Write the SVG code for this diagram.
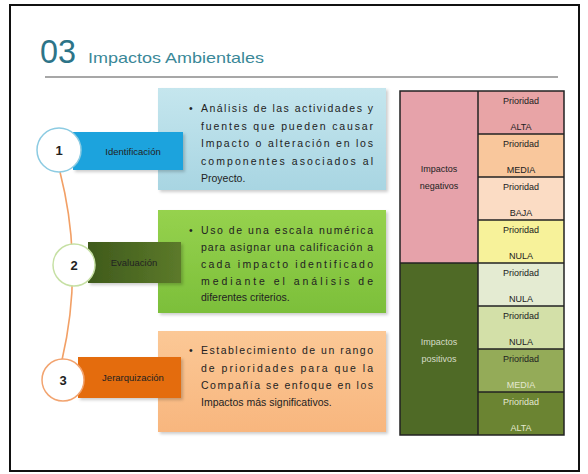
<svg xmlns="http://www.w3.org/2000/svg" width="588" height="474" viewBox="0 0 588 474">
<defs>
<style>
.t{font-family:"Liberation Sans",Arial,sans-serif;fill:#222}
.bx{font-size:10.5px}
.cell{font-size:9px;text-anchor:middle}
.num{font-size:13px;font-weight:bold;text-anchor:middle}
.lab{font-size:9.5px;text-anchor:middle}
.grid{stroke:#222;stroke-width:1.5}
</style>
<linearGradient id="gBlue" x1="0" y1="0" x2="0" y2="1"><stop offset="0" stop-color="#c5e6ee"/><stop offset="1" stop-color="#a8d5e2"/></linearGradient>
<linearGradient id="gGreen" x1="0" y1="0" x2="0" y2="1"><stop offset="0" stop-color="#96d24e"/><stop offset="1" stop-color="#7cbf3a"/></linearGradient>
<linearGradient id="gPeach" x1="0" y1="0" x2="0" y2="1"><stop offset="0" stop-color="#fbc896"/><stop offset="1" stop-color="#f8b67e"/></linearGradient>
<linearGradient id="gDark" x1="0" y1="0" x2="1" y2="0"><stop offset="0" stop-color="#3f5a1c"/><stop offset="1" stop-color="#5c7a2a"/></linearGradient>
<filter id="sh" x="-5%" y="-5%" width="115%" height="120%"><feDropShadow dx="2" dy="2" stdDeviation="1.5" flood-color="#000" flood-opacity="0.2"/></filter>
</defs>
<rect x="0" y="0" width="588" height="474" fill="#fff"/>
<rect x="10" y="5" width="569" height="466" fill="#fff" stroke="#111" stroke-width="2"/>
<g id="title">
<text class="t" x="40" y="63" font-size="33" fill="#2d7488" style="fill:#2d7488" textLength="36" lengthAdjust="spacingAndGlyphs">03</text>
<text class="t" x="88" y="63" font-size="15" style="fill:#3a8898" textLength="176" lengthAdjust="spacingAndGlyphs">Impactos Ambientales</text>
<line x1="45" y1="77" x2="558" y2="77" stroke="#8a8a8a" stroke-width="1.5"/>
</g>
<g id="connectors">
<path d="M60 172 Q84 266 62 360" fill="none" stroke="#f2a066" stroke-width="1.6"/>
</g>
<g id="box1">
<rect x="158" y="88" width="228" height="102" fill="url(#gBlue)" filter="url(#sh)"/>
<text class="t bx" x="189" y="112">•</text>
<text class="t bx" x="201" y="112" textLength="172" lengthAdjust="spacing">Análisis de las actividades y</text>
<text class="t bx" x="201" y="129.5" textLength="172" lengthAdjust="spacing">fuentes que pueden causar</text>
<text class="t bx" x="201" y="147" textLength="172" lengthAdjust="spacing">Impacto o alteración en los</text>
<text class="t bx" x="201" y="164.5" textLength="172" lengthAdjust="spacing">componentes asociados al</text>
<text class="t bx" x="201" y="182">Proyecto.</text>
</g>
<g id="box2">
<rect x="158" y="210" width="228" height="103" fill="url(#gGreen)" filter="url(#sh)"/>
<text class="t bx" x="189" y="234">•</text>
<text class="t bx" x="201" y="234" textLength="172" lengthAdjust="spacing">Uso de una escala numérica</text>
<text class="t bx" x="201" y="251" textLength="172" lengthAdjust="spacing">para asignar una calificación a</text>
<text class="t bx" x="201" y="268" textLength="172" lengthAdjust="spacing">cada impacto identificado</text>
<text class="t bx" x="201" y="284.5" textLength="172" lengthAdjust="spacing">mediante el análisis de</text>
<text class="t bx" x="201" y="301">diferentes criterios.</text>
</g>
<g id="box3">
<rect x="158" y="331" width="228" height="101" fill="url(#gPeach)" filter="url(#sh)"/>
<text class="t bx" x="189" y="354">•</text>
<text class="t bx" x="201" y="354" textLength="172" lengthAdjust="spacing">Establecimiento de un rango</text>
<text class="t bx" x="201" y="371.5" textLength="172" lengthAdjust="spacing">de prioridades para que la</text>
<text class="t bx" x="201" y="389" textLength="172" lengthAdjust="spacing">Compañía se enfoque en los</text>
<text class="t bx" x="201" y="406">Impactos más significativos.</text>
</g>
<g id="step1">
<rect x="73" y="132" width="110" height="38" fill="#1ea3dd" filter="url(#sh)"/>
<text class="t lab" x="133" y="154.5">Identificación</text>
<circle cx="59" cy="150" r="22" fill="#fff" stroke="#8ccbe2" stroke-width="1.5"/>
<text class="t num" x="59" y="155">1</text>
</g>
<g id="step2">
<rect x="88" y="242" width="93" height="41" fill="url(#gDark)" filter="url(#sh)"/>
<text class="t lab" x="134" y="266">Evaluación</text>
<circle cx="74" cy="265" r="21" fill="#fff" stroke="#c6e0a4" stroke-width="1.5"/>
<text class="t num" x="74" y="270">2</text>
</g>
<g id="step3">
<rect x="78" y="357" width="103" height="41" fill="#e46c0a" filter="url(#sh)"/>
<text class="t lab" x="133" y="381">Jerarquización</text>
<circle cx="63" cy="380" r="21" fill="#fff" stroke="#f2a470" stroke-width="1.5"/>
<text class="t num" x="63" y="385">3</text>
</g>
<g id="table">
<rect x="400" y="91" width="78" height="172" fill="#e6a2aa"/>
<rect x="400" y="263" width="78" height="172" fill="#4f6a26"/>
<rect x="478" y="91" width="86" height="43" fill="#e8a4a6"/>
<rect x="478" y="134" width="86" height="43" fill="#f9c79c"/>
<rect x="478" y="177" width="86" height="43" fill="#fbdcc4"/>
<rect x="478" y="220" width="86" height="43" fill="#f7f29a"/>
<rect x="478" y="263" width="86" height="43" fill="#e4ebd2"/>
<rect x="478" y="306" width="86" height="43" fill="#d3e0a8"/>
<rect x="478" y="349" width="86" height="43" fill="#94ab58"/>
<rect x="478" y="392" width="86" height="43" fill="#6b8432"/>
<g class="grid" fill="none">
<rect x="400" y="91" width="164" height="344"/>
<line x1="478" y1="91" x2="478" y2="435"/>
<line x1="400" y1="263" x2="564" y2="263"/>
<line x1="478" y1="134" x2="564" y2="134"/>
<line x1="478" y1="177" x2="564" y2="177"/>
<line x1="478" y1="220" x2="564" y2="220"/>
<line x1="478" y1="306" x2="564" y2="306"/>
<line x1="478" y1="349" x2="564" y2="349"/>
<line x1="478" y1="392" x2="564" y2="392"/>
</g>
<text class="t cell" x="439" y="172">Impactos</text>
<text class="t cell" x="439" y="189">negativos</text>
<text class="t cell" x="439" y="345" style="fill:#d6dcc8">Impactos</text>
<text class="t cell" x="439" y="362" style="fill:#d6dcc8">positivos</text>
<text class="t cell" x="521" y="104">Prioridad</text>
<text class="t cell" x="521" y="130">ALTA</text>
<text class="t cell" x="521" y="147">Prioridad</text>
<text class="t cell" x="521" y="173">MEDIA</text>
<text class="t cell" x="521" y="190">Prioridad</text>
<text class="t cell" x="521" y="216">BAJA</text>
<text class="t cell" x="521" y="233">Prioridad</text>
<text class="t cell" x="521" y="259">NULA</text>
<text class="t cell" x="521" y="276">Prioridad</text>
<text class="t cell" x="521" y="302">NULA</text>
<text class="t cell" x="521" y="319">Prioridad</text>
<text class="t cell" x="521" y="345">NULA</text>
<text class="t cell" x="521" y="362">Prioridad</text>
<text class="t cell" x="521" y="388" style="fill:#e4e8d0">MEDIA</text>
<text class="t cell" x="521" y="405" style="fill:#e4e8d0">Prioridad</text>
<text class="t cell" x="521" y="431" style="fill:#e4e8d0">ALTA</text>
</g>
</svg>
